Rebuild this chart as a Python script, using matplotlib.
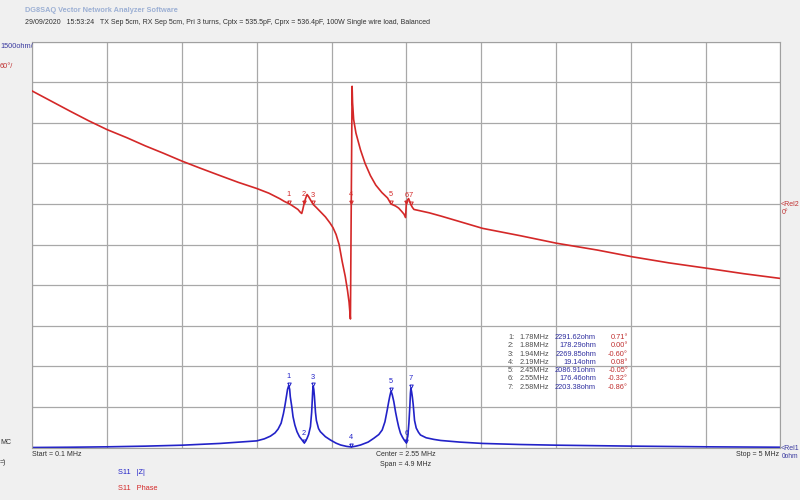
import numpy as np
import matplotlib.pyplot as plt
from matplotlib.path import Path

plt.rcParams['font.family'] = ['Liberation Sans', 'DejaVu Sans']

# |Z| trace (MHz, ohm)
freq_z = [0.10, 0.35, 0.59, 0.84, 1.08, 1.33, 1.57, 1.62, 1.66, 1.69, 1.71, 1.73,
          1.745, 1.755, 1.765, 1.772, 1.78, 1.786, 1.79, 1.80, 1.808, 1.82, 1.834,
          1.85, 1.867, 1.88, 1.89, 1.90, 1.91, 1.922, 1.93, 1.934, 1.937, 1.94,
          1.944, 1.948, 1.955, 1.961, 1.975, 1.987, 2.02, 2.053, 2.09, 2.12, 2.16,
          2.19, 2.22, 2.25, 2.30, 2.337, 2.37, 2.392, 2.41, 2.425, 2.435, 2.442,
          2.45, 2.458, 2.468, 2.48, 2.49, 2.50, 2.512, 2.525, 2.538, 2.55, 2.56,
          2.567, 2.573, 2.577, 2.58, 2.585, 2.59, 2.595, 2.604, 2.615, 2.63, 2.643,
          2.68, 2.73, 2.775, 2.90, 3.05, 3.30, 3.54, 4.04, 4.52, 5.00]
z_ohm = [0, 10, 25, 50, 85, 150, 245, 320, 420, 540, 680, 900,
         1250, 1550, 1900, 2150, 2291.6, 2150, 1877, 1500, 1138, 830, 584,
         400, 277, 178.3, 230, 340, 480, 770, 1300, 1750, 2100, 2269.9,
         2150, 1900, 1300, 1000, 700, 584, 400, 277, 160, 92, 40,
         19.1, 50, 92, 200, 340, 480, 647, 950, 1385, 1700, 1900,
         2086.9, 1950, 1700, 1300, 1016, 760, 525, 380, 260, 176.5, 420,
         900, 1500, 2000, 2203.4, 2050, 1850, 1600, 1000, 720, 560, 462,
         360, 300, 260, 200, 150, 110, 85, 50, 25, 10]

# phase trace (MHz, degrees)
freq_ph = [0.10, 0.20, 0.35, 0.47, 0.59, 0.72, 0.84, 0.96, 1.08, 1.20, 1.33, 1.45,
           1.57, 1.65, 1.72, 1.75, 1.78, 1.80, 1.82, 1.84, 1.855, 1.865, 1.872,
           1.88, 1.89, 1.90, 1.91, 1.925, 1.94, 1.96, 1.99, 2.02, 2.05, 2.07,
           2.09, 2.11, 2.13, 2.15, 2.165, 2.175, 2.184, 2.195, 2.198, 2.205, 2.22,
           2.25, 2.28, 2.315, 2.35, 2.39, 2.427, 2.45, 2.48, 2.50, 2.52, 2.535,
           2.545, 2.55, 2.558, 2.565, 2.572, 2.58, 2.59, 2.60, 2.64, 2.70, 2.78,
           2.90, 3.05, 3.30, 3.535, 3.80, 4.03, 4.27, 4.52, 4.76, 5.00]
phase_deg = [167, 155, 137, 123, 110, 98, 86, 75, 63.5, 53, 42, 32,
             23, 16, 8, 4, 0.7, -2, -5, -8, -12, -14, -8,
             0, 8, 14, 11, 5, -0.6, -5, -12, -19, -28, -35,
             -45, -60, -85, -107, -128, -145, -170, 174, 150, 125, 105,
             80, 60, 42, 28, 17, 9, 0, -3, -6, -11, -15,
             -20, -0.3, 6, 8, 4, -0.9, -5, -8, -10, -13, -18,
             -26, -36, -47, -58, -68, -78, -87, -95, -103, -110]

# markers
mk_id = [1, 2, 3, 4, 5, 6, 7]
mk_freq = [1.78, 1.88, 1.94, 2.19, 2.45, 2.55, 2.58]
mk_ohm = [2291.62, 178.29, 2269.85, 19.14, 2086.91, 176.46, 2203.38]
mk_deg = [0.71, 0.00, -0.60, 0.08, -0.05, -0.32, -0.86]

blue = '#2222c8'
red = '#d42828'

fig = plt.figure(figsize=(8, 5), dpi=100, facecolor='#f0f0f0')
ax = fig.add_axes([32.3 / 800, 1 - 447.5 / 500, 748 / 800, 405.8 / 500])
ax.set_facecolor('white')
ax.set_xlim(0.1, 5.0)
ax.set_ylim(0, 15000)
ax.set_xticks(np.linspace(0.1, 5.0, 11))
ax.set_yticks(np.linspace(0, 15000, 11))
ax.grid(color='#a8a8a8', lw=0.9)
ax.tick_params(length=0, labelbottom=False, labelleft=False)
for s in ax.spines.values():
    s.set_color('#a0a0a0')

ax2 = ax.twinx()
ax2.set_ylim(-360, 240)
ax2.tick_params(length=0, labelright=False)
for s in ax2.spines.values():
    s.set_visible(False)

# down-pointing triangle with its tip on the data point
tri = Path([(-0.55, 1.1), (0.55, 1.1), (0, 0), (-0.55, 1.1)])

ax2.plot(freq_ph, phase_deg, color=red, lw=1.2)
ax.plot(freq_z, z_ohm, color=blue, lw=1.2)

for n, f, z, d in zip(mk_id, mk_freq, mk_ohm, mk_deg):
    ax.plot(f, z, marker=tri, ms=5, mfc='none', mec=blue, mew=0.7)
    ax.annotate(str(n), (f, z), xytext=(0, 4.0), textcoords='offset points',
                ha='center', va='bottom', fontsize=5.3, color=blue)
    ax2.plot(f, d, marker=tri, ms=5, mfc='none', mec=red, mew=0.7)
    ax2.annotate(str(n), (f, d), xytext=(0, 4.0), textcoords='offset points',
                 ha='center', va='bottom', fontsize=5.3, color=red)

# marker table
for i, (n, f, z, d) in enumerate(zip(mk_id, mk_freq, mk_ohm, mk_deg)):
    y = 1 - (337.5 + i * 8.3) / 500
    fig.text(508 / 800, y, f'{n}:', fontsize=5.3, color='#505050', va='center')
    fig.text(549 / 800, y, f'{f:.2f}MHz', fontsize=5.3, color='#505050', va='center', ha='right')
    fig.text(596 / 800, y, f'{z:.2f}ohm', fontsize=5.3, color='#3030a0', va='center', ha='right')
    fig.text(628 / 800, y, f'{d:.2f}°', fontsize=5.3, color='#c03030', va='center', ha='right')


def ftext(x, y, s, **kw):
    kw.setdefault('fontsize', 5.0)
    kw.setdefault('va', 'center')
    fig.text(x / 800, 1 - y / 500, s, **kw)


ftext(25, 10, 'DG8SAQ Vector Network Analyzer Software', color='#9cb0d4',
      fontweight='bold', fontsize=5.3)
ftext(25, 22, '29/09/2020   15:53:24   TX Sep 5cm, RX Sep 5cm, Pri 3 turns, Cptx = 535.5pF, '
      'Cprx = 536.4pF, 100W Single wire load, Balanced', color='#303030')
ftext(0, 46, '1500ohm/', color='#3a3aa0', fontsize=5.3)
ftext(0, 66, '60°/', color='#c03030', fontsize=5.3)
ftext(781, 205, '<Rel2', color='#c03030')
ftext(782, 213, '0°', color='#c03030')
ftext(781, 448, '<Rel1', color='#3a3aa0')
ftext(782, 457, '0ohm', color='#3a3aa0', fontsize=4.8)
ftext(0, 443, 'MC', color='#303030')
ftext(0, 462, '=)', color='#303030')
ftext(32, 455, 'Start = 0.1 MHz', color='#303030')
ftext(406, 455, 'Center = 2.55 MHz', color='#303030', ha='center')
ftext(406, 464, 'Span = 4.9 MHz', color='#303030', ha='center')
ftext(779, 455, 'Stop = 5 MHz', color='#303030', ha='right')
ftext(118, 473, 'S11   |Z|', color=blue, fontsize=5.3)
ftext(118, 488, 'S11   Phase', color=red, fontsize=5.3)

fig.savefig('out.png', dpi=100, facecolor=fig.get_facecolor())
